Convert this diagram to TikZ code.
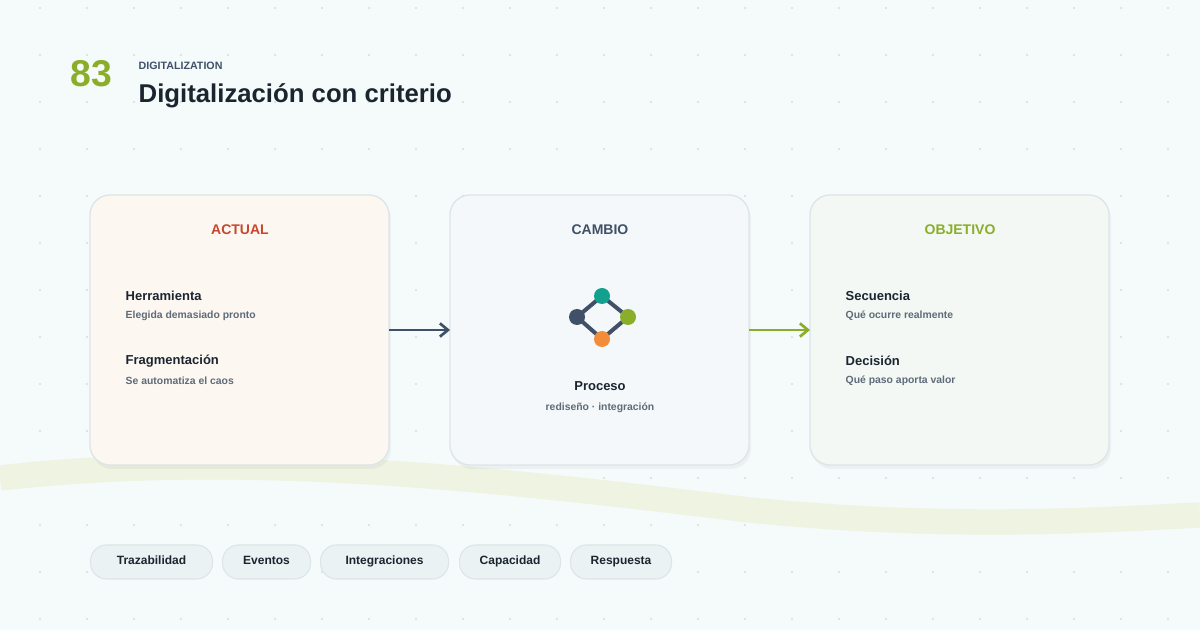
\documentclass[tikz,border=0pt]{standalone}
\usepackage{fontspec}
\setmainfont{Liberation Sans}
\usetikzlibrary{arrows.meta}
\definecolor{bg}{HTML}{F5FAFA}
\definecolor{dotc}{HTML}{D5DEDF}
\definecolor{wave}{HTML}{EEF3E2}
\definecolor{ink}{HTML}{1B2530}
\definecolor{slate}{HTML}{3F5068}
\definecolor{grn}{HTML}{8AAE2A}
\definecolor{red}{HTML}{C8472C}
\definecolor{sub}{HTML}{5E6B78}
\definecolor{cardline}{HTML}{DDE5E8}
\definecolor{teal}{HTML}{13A08F}
\definecolor{orng}{HTML}{F28C38}
\definecolor{objfill}{HTML}{F3F8F5}
\definecolor{camfill}{HTML}{F4F8FA}
\definecolor{actfill}{HTML}{FDF7F2}
\begin{document}
\begin{tikzpicture}[x=0.75pt,y=-0.75pt,
  card/.style={draw=cardline,line width=1pt,rounded corners=15pt},
  ttl/.style={font=\bfseries\fontsize{10.5}{12}\selectfont,anchor=center},
  item/.style={font=\bfseries\fontsize{9.75}{12}\selectfont,text=ink,anchor=west},
  desc/.style={font=\bfseries\fontsize{7.8}{10}\selectfont,text=sub,anchor=west},
  pill/.style={draw=cardline,fill=cardline!40!bg,rounded corners=12pt,line width=0.8pt,minimum height=25.5pt,font=\bfseries\fontsize{9}{11}\selectfont,text=ink,anchor=west,inner xsep=0pt},
  dot/.style={circle,inner sep=0pt,minimum size=12pt},
  link/.style={line width=3pt,draw=slate}]
\useasboundingbox (0,0) rectangle (1200,630);
\fill[bg] (0,0) rectangle (1200,630);
\foreach \i in {0,...,25} \foreach \j in {0,...,13} \fill[dotc] (40+47*\i,8+47*\j) circle (0.9pt);
\draw[wave,line width=19pt] (0,478) .. controls (250,450) and (500,480) .. (750,510) .. controls (950,530) and (1100,520) .. (1200,515);
% header
\node[anchor=west,text=grn,font=\bfseries\fontsize{28}{30}\selectfont] (num) at (66,74) {83};
\node[anchor=west,text=slate,font=\bfseries\fontsize{8}{10}\selectfont] (kick) at (134,66) {DIGITALIZATION};
\node[anchor=west,text=ink,font=\bfseries\fontsize{19.3}{22}\selectfont] (head) at (134,96) {Digitalización con criterio};
% cards
\fill[black,opacity=0.04,rounded corners=15pt] (92,199) rectangle (391,469);
\fill[black,opacity=0.04,rounded corners=15pt] (452,199) rectangle (751,469);
\fill[black,opacity=0.04,rounded corners=15pt] (812,199) rectangle (1111,469);
\draw[card,fill=actfill] (90,195) rectangle (389,465);
\draw[card,fill=camfill] (450,195) rectangle (749,465);
\draw[card,fill=objfill] (810,195) rectangle (1109,465);
\coordinate (a) at (389,330); \coordinate (b) at (450,330);
\coordinate (c) at (749,330); \coordinate (d) at (810,330);
\node[ttl,text=red] (t1) at (240,230) {ACTUAL};
\node[ttl,text=slate] (t2) at (600,230) {CAMBIO};
\node[ttl,text=grn] (t3) at (960,230) {OBJETIVO};
\node[item] (i1) at (121,296) {Herramienta};
\node[desc] (d1) at (121,316) {Elegida demasiado pronto};
\node[item] (i2) at (121,361) {Fragmentación};
\node[desc] (d2) at (121,381) {Se automatiza el caos};
\node[item] (i3) at (841,296) {Secuencia};
\node[desc] (d3) at (841,316) {Qué ocurre realmente};
\node[item] (i4) at (841,361) {Decisión};
\node[desc] (d4) at (841,381) {Qué paso aporta valor};
\node[item,anchor=center] (pr) at (600,386) {Proceso};
\node[desc,anchor=center] (pd) at (600,408) {rediseño · integración};
% icon
\coordinate (c1) at (577,317); \coordinate (c2) at (602,296);
\coordinate (c3) at (628,317); \coordinate (c4) at (602,339);
\draw[link] (c1) -- (c2) -- (c3) -- (c4) -- cycle;
\node[dot,fill=slate] (n1) at (c1) {};
\node[dot,fill=teal] (n2) at (c2) {};
\node[dot,fill=grn] (n3) at (c3) {};
\node[dot,fill=orng] (n4) at (c4) {};
% arrows
\draw[slate,line width=2pt,-{Straight Barb[length=6pt,width=10pt]}] (a) -- (b);
\draw[grn,line width=2pt,-{Straight Barb[length=6pt,width=10pt]}] (c) -- (d);
% pills
\node[pill,minimum width=91.5pt] (p1) at (90,562) {\makebox[91.5pt]{\strut Trazabilidad}};
\node[pill,minimum width=66pt] (p2) at (222,562) {\makebox[66pt]{\strut Eventos}};
\node[pill,minimum width=96pt] (p3) at (320,562) {\makebox[96pt]{\strut Integraciones}};
\node[pill,minimum width=75.75pt] (p4) at (459,562) {\makebox[75.75pt]{\strut Capacidad}};
\node[pill,minimum width=75.75pt] (p5) at (570,562) {\makebox[75.75pt]{\strut Respuesta}};
\end{tikzpicture}
\end{document}
